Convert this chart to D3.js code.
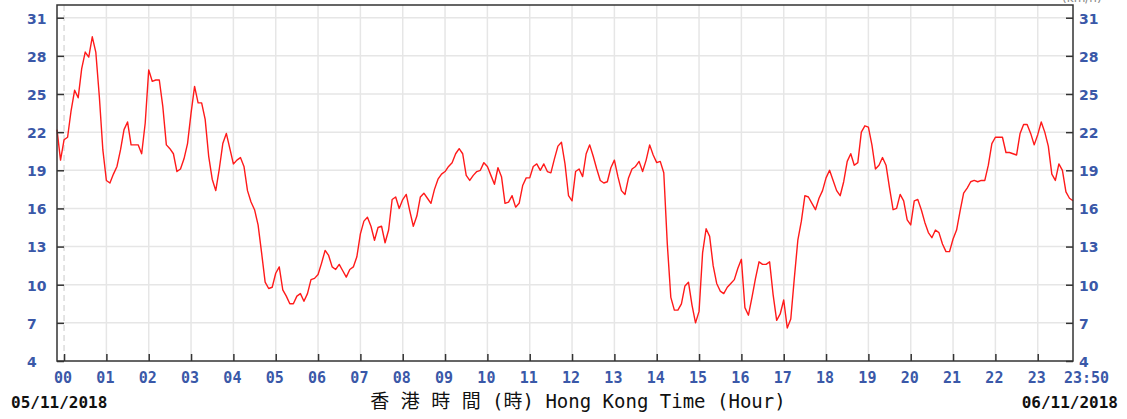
<!DOCTYPE html>
<html>
<head>
<meta charset="utf-8">
<script src="https://cdn.jsdelivr.net/npm/d3@7"></script>
<style>
	body { margin: 0; background: #fff; }
	svg { display: block; }
</style>
</head>
<body>
<svg id="chart" width="1127" height="419"></svg>
<script>
// 5-minute readings, first one at 23:50 of the previous day (-10 min)
const startMinute = -10;
const stepMinutes = 5;
const speeds = [
	22.2, 19.8, 21.4, 21.6, 23.7, 25.3, 24.7, 27.0, 28.3, 27.9,
	29.5, 28.3, 24.8, 20.6, 18.2, 18.0, 18.7, 19.3, 20.6, 22.2,
	22.8, 21.0, 21.0, 21.0, 20.3, 22.7, 26.9, 26.0, 26.1, 26.1,
	24.0, 21.0, 20.7, 20.3, 18.9, 19.1, 19.9, 21.1, 23.5, 25.6,
	24.3, 24.3, 23.0, 20.1, 18.3, 17.4, 19.1, 21.1, 21.9, 20.7,
	19.5, 19.8, 20.0, 19.3, 17.4, 16.5, 15.9, 14.7, 12.5, 10.2,
	9.7, 9.8, 10.9, 11.4, 9.6, 9.1, 8.5, 8.5, 9.1, 9.3,
	8.7, 9.3, 10.4, 10.5, 10.8, 11.7, 12.7, 12.3, 11.4, 11.2,
	11.6, 11.1, 10.6, 11.2, 11.4, 12.2, 14.0, 15.0, 15.3, 14.6,
	13.5, 14.5, 14.6, 13.3, 14.3, 16.7, 16.9, 16.0, 16.7, 17.1,
	15.8, 14.6, 15.4, 16.9, 17.2, 16.8, 16.4, 17.5, 18.3, 18.7,
	18.9, 19.3, 19.6, 20.3, 20.7, 20.3, 18.6, 18.2, 18.6, 18.9,
	19.0, 19.6, 19.3, 18.6, 17.9, 19.2, 18.5, 16.4, 16.5, 17.0,
	16.1, 16.4, 17.8, 18.4, 18.4, 19.3, 19.5, 19.0, 19.5, 18.9,
	18.8, 19.9, 20.9, 21.2, 19.5, 17.0, 16.6, 18.9, 19.1, 18.5,
	20.3, 21.0, 20.1, 19.1, 18.2, 18.0, 18.1, 19.2, 19.8, 18.5,
	17.4, 17.1, 18.4, 19.1, 19.3, 19.7, 18.9, 19.8, 21.0, 20.2,
	19.6, 19.7, 18.8, 13.2, 9.0, 8.0, 8.0, 8.5, 9.9, 10.2,
	8.4, 7.0, 7.9, 12.5, 14.4, 13.8, 11.5, 10.1, 9.5, 9.3,
	9.8, 10.1, 10.4, 11.3, 12.0, 8.2, 7.6, 9.0, 10.5, 11.8,
	11.6, 11.6, 11.8, 9.2, 7.2, 7.7, 8.8, 6.6, 7.3, 10.5,
	13.5, 15.0, 17.0, 16.9, 16.4, 15.9, 16.8, 17.4, 18.4, 19.0,
	18.2, 17.4, 17.0, 18.1, 19.7, 20.3, 19.4, 19.6, 22.0, 22.5,
	22.4, 21.0, 19.1, 19.4, 20.0, 19.4, 17.6, 15.9, 16.0, 17.1,
	16.6, 15.1, 14.7, 16.6, 16.7, 15.9, 14.9, 14.1, 13.7, 14.3,
	14.1, 13.2, 12.6, 12.6, 13.6, 14.3, 15.8, 17.2, 17.6, 18.1,
	18.2, 18.1, 18.2, 18.2, 19.4, 21.1, 21.6, 21.6, 21.6, 20.4,
	20.4, 20.3, 20.2, 21.9, 22.6, 22.6, 21.9, 21.0, 21.8, 22.8,
	22.0, 20.9, 18.7, 18.2, 19.5, 19.0, 17.3, 16.8, 16.6
];
const yTicks = [4, 7, 10, 13, 16, 19, 22, 25, 28, 31];
const hourTicks = ["00", "01", "02", "03", "04", "05", "06", "07", "08", "09", "10", "11",
	"12", "13", "14", "15", "16", "17", "18", "19", "20", "21", "22", "23"];
const endLabel = "23:50";
const startDate = "05/11/2018";
const endDate = "06/11/2018";
const axisTitle = "香 港 時 間 (時) Hong Kong Time (Hour)";
const unitLabel = "(km/h)";

const svg = d3.select("#chart");
const margin = { left: 57, right: 1073, top: 5, bottom: 361 };
const blue = "#3a58a8";

const x = d3.scaleLinear().domain([-10, 1430]).range([margin.left, margin.right]);
const y = d3.scaleLinear().domain([4, 32]).range([margin.bottom, margin.top]);

const hourMinutes = hourTicks.map((h) => +h * 60);

// grid
const grid = svg.append("g");
grid.selectAll(".hgrid")
	.data(yTicks.slice(1))
	.join("line")
	.attr("x1", margin.left).attr("x2", margin.right)
	.attr("y1", (d) => y(d)).attr("y2", (d) => y(d))
	.attr("stroke", "#e6e6e6").attr("stroke-width", 1.5);
grid.selectAll(".vgrid")
	.data(hourMinutes)
	.join("line")
	.attr("x1", (d) => x(d)).attr("x2", (d) => x(d))
	.attr("y1", margin.top).attr("y2", margin.bottom)
	.attr("stroke", (d) => (d === 0 ? "#dcdcdc" : "#e6e6e6"))
	.attr("stroke-width", 1.5)
	.style("stroke-dasharray", (d) => (d === 0 ? "6,4" : null));

// the line
const line = d3.line()
	.x((d, i) => x(startMinute + i * stepMinutes))
	.y((d) => y(d));
svg.append("path")
	.datum(speeds)
	.attr("fill", "none")
	.attr("stroke", "#ff1a1a")
	.attr("stroke-width", 1.4)
	.attr("stroke-linejoin", "round")
	.attr("d", line);

// axes with inward ticks
const leftAxis = svg.append("g")
	.attr("transform", `translate(${margin.left},0)`)
	.call(d3.axisLeft(y).tickValues(yTicks).tickSize(-7).tickPadding(0));
const rightAxis = svg.append("g")
	.attr("transform", `translate(${margin.right},0)`)
	.call(d3.axisRight(y).tickValues(yTicks).tickSize(-7).tickPadding(0));
const bottomAxis = svg.append("g")
	.attr("transform", `translate(0,${margin.bottom})`)
	.call(d3.axisBottom(x).tickValues(hourMinutes.concat([1430]))
		.tickSize(-7)
		.tickFormat((d, i) => (i < hourTicks.length ? hourTicks[i] : endLabel)));

[leftAxis, rightAxis, bottomAxis].forEach((g) => {
	g.select(".domain").remove();
	g.selectAll(".tick line").attr("stroke", "#333").attr("stroke-width", 1.5);
});

leftAxis.selectAll(".tick text")
	.attr("x", -30).attr("dy", "0.38em")
	.attr("text-anchor", "start")
	.style("font-family", "'DejaVu Sans', Verdana, sans-serif")
	.style("font-weight", "bold").style("font-size", "14px")
	.attr("fill", blue);
rightAxis.selectAll(".tick text")
	.attr("x", 6).attr("dy", "0.38em")
	.attr("text-anchor", "start")
	.style("font-family", "'DejaVu Sans', Verdana, sans-serif")
	.style("font-weight", "bold").style("font-size", "14px")
	.attr("fill", blue);
bottomAxis.selectAll(".tick text")
	.attr("y", 22).attr("dy", 0)
	.attr("dx", (d) => (d === 1430 ? 13 : -1.5))
	.style("font-family", "'DejaVu Sans Mono', monospace")
	.style("font-weight", "bold").style("font-size", "15px")
	.attr("fill", blue);
bottomAxis.selectAll(".tick").filter((d) => d === 1430).select("line").remove();

// plot frame
svg.append("rect")
	.attr("x", margin.left).attr("y", margin.top)
	.attr("width", margin.right - margin.left).attr("height", margin.bottom - margin.top)
	.attr("fill", "none")
	.attr("stroke", "#333").attr("stroke-width", 1.5);

// bottom texts
svg.append("text")
	.attr("x", 11).attr("y", 408)
	.style("font-family", "'DejaVu Sans Mono', monospace")
	.style("font-weight", "bold").style("font-size", "16px")
	.attr("fill", "#111")
	.text(startDate);
svg.append("text")
	.attr("x", 1118).attr("y", 408)
	.attr("text-anchor", "end")
	.style("font-family", "'DejaVu Sans Mono', monospace")
	.style("font-weight", "bold").style("font-size", "16px")
	.attr("fill", "#111")
	.text(endDate);
svg.append("text")
	.attr("x", 578).attr("y", 408)
	.attr("text-anchor", "middle")
	.style("font-family", "'DejaVu Sans Mono', 'Noto Sans CJK TC', monospace")
	.style("font-size", "19px")
	.attr("fill", "#111")
	.text(axisTitle);

// unit label, half hidden behind the top edge as in the original
svg.append("text")
	.attr("x", 1062).attr("y", 2)
	.style("font-family", "'DejaVu Sans', sans-serif")
	.style("font-size", "12px")
	.attr("fill", "#888")
	.text(unitLabel);
</script>
</body>
</html>
